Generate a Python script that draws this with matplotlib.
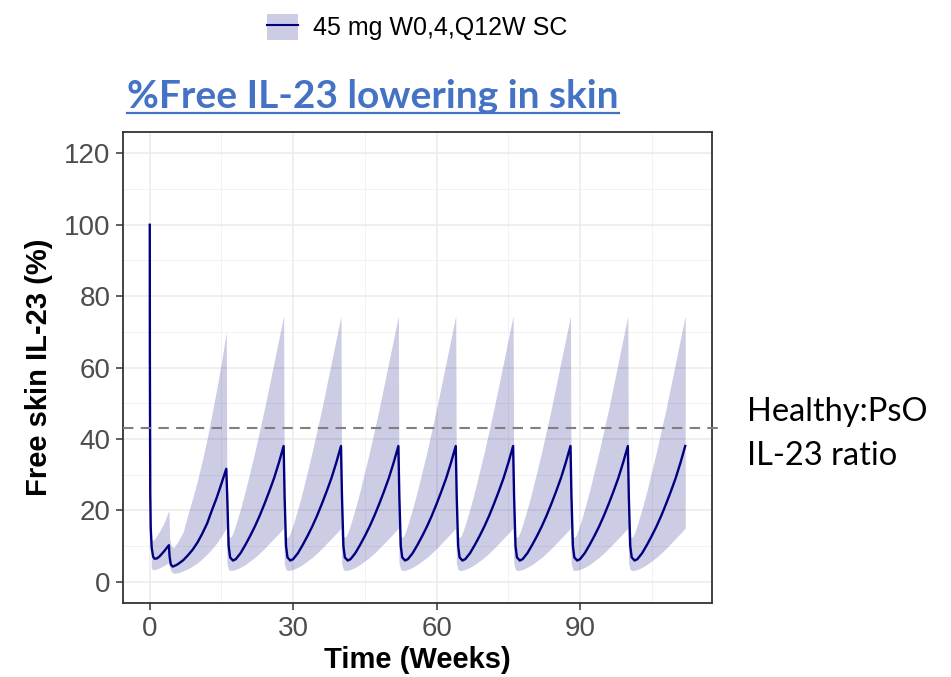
import numpy as np
import matplotlib
matplotlib.use("Agg")
import matplotlib.pyplot as plt
from matplotlib.patches import Patch
from matplotlib.lines import Line2D

# ── Data ─────────────────────────────────────────────────────────────────────

legend_label = "45 mg W0,4,Q12W SC"
title_text = "%Free IL-23 lowering in skin"
threshold = 43
threshold_label = "Healthy:PsO\nIL-23 ratio"

# loading phase: doses at week 0 and 4, up to the week-16 dose
t_init = [0, 0.02, 0.1, 0.2, 0.4, 0.7, 1.0, 1.5, 2, 3, 4, 4.15, 4.4, 4.8,
          5.5, 6, 7, 8, 9, 10, 11, 12, 13, 14, 15, 16]
med_init = [100, 63, 25, 15, 9.5, 7.0, 6.4, 6.5, 7.0, 8.5, 10.2, 7.0, 4.8, 4.2,
            4.6, 5.0, 6.0, 7.4, 9.0, 11.0, 13.5, 16.3, 20.0, 23.5, 27.5, 31.6]

tb_init = [0.3, 0.6, 1, 2, 3, 4, 4.15, 4.5, 5, 6, 7, 8, 9, 10, 11, 12, 13, 14, 15, 16]
upper_init = [12, 11.5, 12, 14, 16.5, 20, 12, 10, 9.5, 11.5, 14, 19, 23.5, 28.5,
              34, 40, 47, 54, 61.5, 70]
lower_init = [3.8, 3.4, 3.3, 3.8, 4.5, 5.3, 4, 2.8, 2.3, 2.5, 3, 3.6, 4.4, 5.3,
              6.4, 7.7, 9.2, 10.8, 12.8, 15]

# maintenance: Q12W doses, each cycle has the same shape
doses = [16, 28, 40, 52, 64, 76, 88, 100]
cyc_off = [0.2, 0.5, 0.8, 1.4, 2, 3, 4, 5, 6, 7, 8, 9, 10, 11, 12]
cyc_med = [24, 10, 6.8, 5.9, 6.3, 8, 10.3, 12.8, 15.5, 18.5, 21.8, 25.3, 29, 33.3, 38]

band_off = [0.15, 0.5, 1, 1.5, 2, 3, 4, 5, 6, 7, 8, 9, 10, 11, 12]
band_upper = [15, 12.5, 12.5, 14, 16, 20.5, 25.5, 31, 36.5, 42.5, 48.5, 55, 61.5, 68, 74.5]
band_lower = [5, 3.3, 3.1, 3.2, 3.4, 4, 4.8, 5.8, 6.8, 8, 9.3, 10.7, 12.1, 13.5, 15]

# ── Assemble series ──────────────────────────────────────────────────────────

t_med = np.array(t_init + [d + o for d in doses for o in cyc_off])
med = np.array(med_init + [v for d in doses for v in cyc_med])

t_band = np.array(tb_init + [d + o for d in doses for o in band_off])
upper = np.array(upper_init + [v for d in doses for v in band_upper])
lower = np.array(lower_init + [v for d in doses for v in band_lower])

# ── Plot ─────────────────────────────────────────────────────────────────────

navy = "#000080"
W, H = 951, 677
fig = plt.figure(figsize=(W / 100, H / 100), dpi=100)
ax = fig.add_axes([123 / W, 1 - 603 / H, (712 - 123) / W, (603 - 132) / H])

ax.fill_between(t_band, lower, upper, color=navy, alpha=0.2, linewidth=0, zorder=2)
ax.plot(t_med, med, color=navy, lw=1.7, zorder=3)
ax.plot([-5.6, 119.6], [threshold, threshold], color="#7f7f7f", lw=1.5,
        ls=(0, (5, 3.5)), clip_on=False, zorder=4)

ax.set_xlim(-5.6, 117.6)
ax.set_ylim(-6, 126)
ax.set_xticks([0, 30, 60, 90])
ax.set_xticks([15, 45, 75, 105], minor=True)
ax.set_yticks(range(0, 121, 20))
ax.set_yticks(range(10, 121, 20), minor=True)
ax.grid(which="major", color="#ebebeb", lw=1.1, zorder=0)
ax.grid(which="minor", color="#f2f2f2", lw=0.7, zorder=0)
ax.set_axisbelow(True)
for s in ax.spines.values():
    s.set_color("#333333")
    s.set_linewidth(1.3)
ax.tick_params(which="major", length=5, width=1.1, color="#333333",
               labelsize=20, labelcolor="#4d4d4d", pad=4)
ax.tick_params(which="minor", length=0)
for lab in ax.get_xticklabels() + ax.get_yticklabels():
    lab.set_family("Liberation Sans")

ax.set_xlabel("Time (Weeks)", fontsize=21, fontweight="bold",
              family="Liberation Sans", labelpad=3)
ax.set_ylabel("Free skin IL-23 (%)", fontsize=21, fontweight="bold",
              family="Liberation Sans", labelpad=8)

# legend above the title
handle = (Patch(facecolor=navy, alpha=0.2, edgecolor="none"),
          Line2D([], [], color=navy, lw=1.5))
fig.legend([handle], [legend_label], loc="center", bbox_to_anchor=(417 / W, 1 - 27 / H),
           frameon=False, prop={"family": "Liberation Sans", "size": 18},
           handlelength=1.25, handleheight=1.25, handletextpad=0.6)

title = fig.text(127 / W, 1 - 96 / H, title_text, ha="left", va="center",
                 fontsize=28, fontweight="bold", color="#4472c4", family="Lato")
fig.canvas.draw()
bb = title.get_window_extent()
fig.add_artist(Line2D([bb.x0 / W, bb.x1 / W], [1 - 113 / H, 1 - 113 / H],
                      color="#4472c4", lw=1.6))

fig.text(747 / W, 1 - 434 / H, threshold_label, ha="left", va="center",
         fontsize=23.5, color="black", family="Lato", linespacing=1.55)

fig.savefig("out.png", dpi=100)
